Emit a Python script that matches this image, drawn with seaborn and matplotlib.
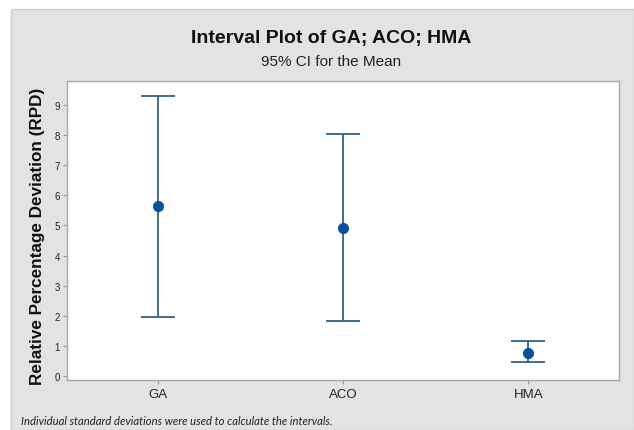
import matplotlib
matplotlib.use("Agg")
import matplotlib.pyplot as plt
from matplotlib.patches import Rectangle
import seaborn as sns
import pandas as pd

# Interval data: mean and 95% confidence bounds per algorithm
algorithms = ["GA", "ACO", "HMA"]
means = [5.65, 4.92, 0.79]
lower = [1.98, 1.84, 0.47]
upper = [9.29, 8.03, 1.16]
yticks = [0, 1, 2, 3, 4, 5, 6, 7, 8, 9]

df = pd.DataFrame({"algorithm": algorithms, "mean": means,
                   "lower": lower, "upper": upper})

sns.set_theme(style="white")
plt.rcParams["font.family"] = ["Liberation Sans", "DejaVu Sans"]

panel_bg = "#e3e3e3"
line_col = "#2f6283"
dot_col = "#0a4f9a"

fig = plt.figure(figsize=(6.34, 4.31), dpi=100)
fig.patch.set_facecolor("white")
W, H = 634, 431
# Gray panel behind the chart
fig.patches.append(Rectangle((11 / W, 0), 1 - 11 / W, 1 - 10 / H,
                             transform=fig.transFigure, facecolor=panel_bg,
                             edgecolor="#cfcfcf", linewidth=1.0, zorder=-10))

ax = fig.add_axes([67 / W, 1 - 381 / H, (619 - 67) / W, (381 - 82) / H])
ax.set_facecolor("white")

x = list(range(len(algorithms)))
ax.errorbar(x, df["mean"],
            yerr=[df["mean"] - df["lower"], df["upper"] - df["mean"]],
            fmt="none", ecolor=line_col, elinewidth=1.3, capsize=12.3,
            capthick=1.3, zorder=2)
sns.scatterplot(x=x, y=df["mean"], ax=ax, color=dot_col, s=55,
                edgecolor=dot_col, zorder=3, legend=False)

ax.set_xlim(-0.49, 2.49)
ax.set_ylim(-0.12, 9.78)
ax.set_xticks(x)
ax.set_xticklabels(algorithms)
ax.set_yticks(yticks)
ax.tick_params(axis="both", which="both", length=3, width=0.8,
               color="#9a9a9a", labelcolor="#222222",
               pad=2, left=True, bottom=True)
ax.tick_params(axis="y", labelsize=7)
ax.tick_params(axis="x", labelsize=9.5, pad=3)
ax.set_xlabel("")
ax.set_ylabel("Relative Percentage Deviation (RPD)", fontsize=12.3,
              fontweight="bold", color="#111111", va="center")
ax.yaxis.set_label_coords((38 - 67) / 552, (381 - 236) / 299)
for s in ax.spines.values():
    s.set_color("#a8a8a8")
    s.set_linewidth(1.0)

fig.text(331 / W, 1 - 39 / H, "Interval Plot of GA; ACO; HMA",
         ha="center", va="center", fontsize=14, fontweight="bold",
         color="#111111")
fig.text(331 / W, 1 - 62 / H, "95% CI for the Mean",
         ha="center", va="center", fontsize=11, color="#222222")
fig.text(21 / W, 1 - 422 / H,
         "Individual standard deviations were used to calculate the intervals.",
         ha="left", va="center", fontsize=8.1, style="italic",
         family=["Lato", "DejaVu Sans"], color="#222222")

fig.savefig("out.png", dpi=100, facecolor=fig.get_facecolor())
